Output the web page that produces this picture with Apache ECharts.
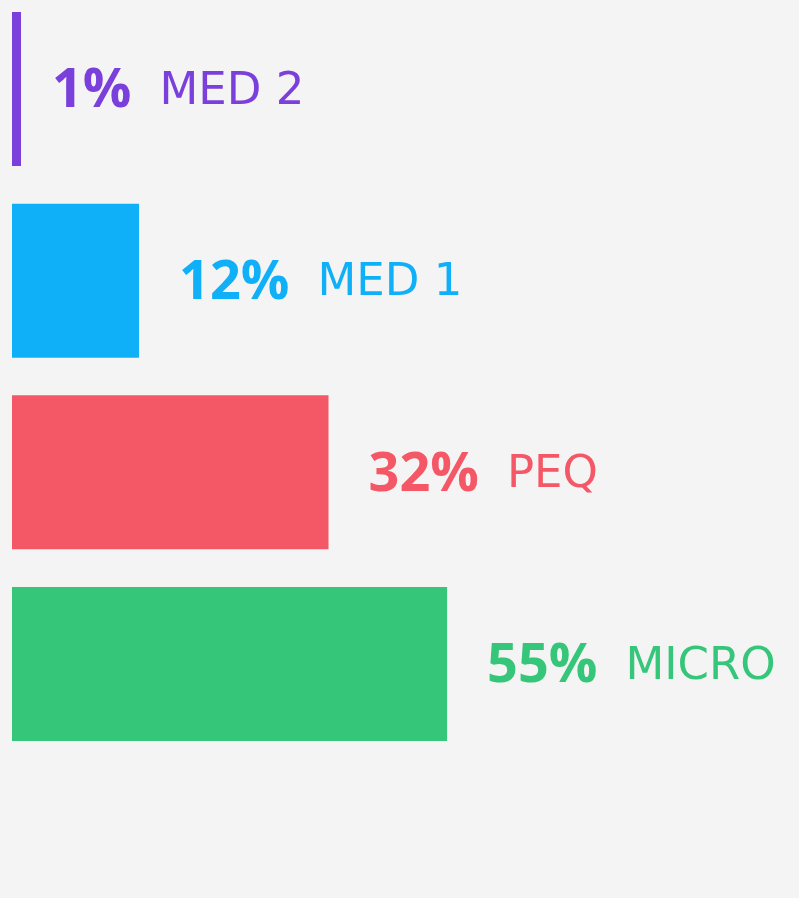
<!DOCTYPE html>
<html>
<head>
<meta charset="utf-8">
<script src="https://cdn.jsdelivr.net/npm/echarts@6/dist/echarts.min.js"></script>
<style>
html,body{margin:0;padding:0;background:#f4f4f4;}
#chart{width:799px;height:898px;}
</style>
</head>
<body>
<div id="chart"></div>
<script>
// Categories, top to bottom
const categories = ['MED 2', 'MED 1', 'PEQ', 'MICRO'];
// Percent labels shown next to each bar
const percentLabels = [1, 12, 32, 55];
// Bar lengths as drawn in the picture (axis units)
const barLengths = [0.85, 12, 29.9, 41.1];
const colors = ['#7b3fdb', '#10b0f8', '#f45866', '#36c67a'];
const labelGaps = [31, 40, 40, 40];

const chart = echarts.init(document.getElementById('chart'));
chart.setOption({
  backgroundColor: '#f4f4f4',
  animation: false,
  grid: { left: 12, right: 46, top: 89, bottom: 234, containLabel: false },
  xAxis: { type: 'value', min: 0, max: 70, show: false },
  yAxis: { type: 'category', data: categories, inverse: true, show: false, boundaryGap: false },
  series: [{
    type: 'bar',
    barWidth: 154,
    clip: false,
    data: barLengths.map((v, i) => ({
      value: v,
      itemStyle: { color: colors[i] },
      label: { color: colors[i], distance: labelGaps[i] }
    })),
    label: {
      show: true,
      position: 'right',
      distance: 40,
      offset: [0, 3],
      formatter: p => '{v|' + percentLabels[p.dataIndex] + '%}{n|' + categories[p.dataIndex] + '}',
      rich: {
        v: { fontFamily: 'Open Sans', fontWeight: 'bold', fontSize: 54, lineHeight: 60, verticalAlign: 'middle' },
        n: { fontFamily: 'DejaVu Sans', fontWeight: 'normal', fontSize: 45, lineHeight: 60, padding: [0, 0, 0, 28], verticalAlign: 'middle' }
      }
    }
  }]
});
</script>
</body>
</html>
